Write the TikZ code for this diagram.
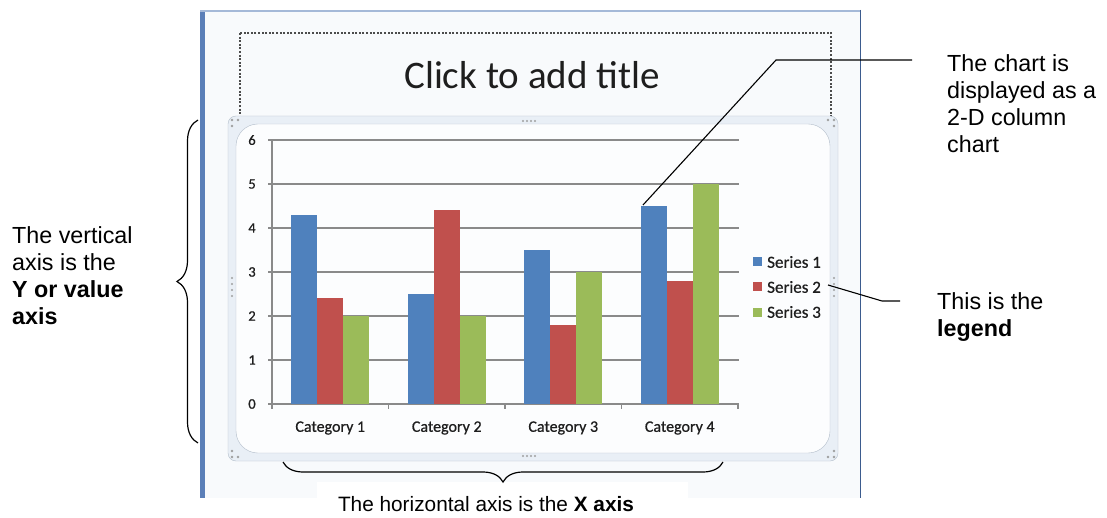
\documentclass[tikz,border=0pt]{standalone}
\usepackage{fontspec}
\setmainfont{Liberation Sans}
\newfontfamily\calib{Carlito}
\newfontfamily\calibdark{Carlito}[FakeBold=0.7]
\usetikzlibrary{decorations.pathreplacing}

\definecolor{serA}{HTML}{4F81BD}
\definecolor{serB}{HTML}{C0504D}
\definecolor{serC}{HTML}{9BBB59}
\definecolor{slidebg}{HTML}{F8FAFC}
\definecolor{gridc}{HTML}{8A8A8A}
\definecolor{framefill}{HTML}{E9EFF6}
\definecolor{framestroke}{HTML}{B2BDCA}
\definecolor{edgeblue}{HTML}{5B7FB8}
\definecolor{edgedark}{HTML}{3B5B8E}
\definecolor{inkc}{HTML}{1E1E1E}

\tikzset{
  note/.style={anchor=north west, align=left, inner sep=0pt, font=\fontsize{23.3}{27}\selectfont},
  callout/.style={line width=1.1pt, black},
  bracket/.style={decorate, line width=1.2pt, decoration={brace, amplitude=#1}},
  ylab/.style={font=\calibdark\fontsize{14.5}{16}\selectfont, text=inkc, inner sep=0pt},
  catlab/.style={font=\calibdark\fontsize{16}{18}\selectfont, text=inkc, inner sep=0pt},
  leglab/.style={font=\calibdark\fontsize{17}{19}\selectfont, text=inkc, inner sep=0pt, anchor=west},
  grid line/.style={gridc, line width=1.2pt},
  handle/.style={fill=gray!75},
}

\begin{document}
\begin{tikzpicture}[x=1pt,y=-1pt]
\useasboundingbox (0,0) rectangle (1107,518);
\fill[white] (0,0) rectangle (1107,518);

% slide page with its window edges
\fill[slidebg] (200,10) rectangle (861,498);
\fill[edgeblue] (200,10) rectangle (205,498);
\draw[edgeblue!55, line width=1.5pt] (200,11) -- (861,11);
\draw[edgedark, line width=1.5pt] (860.5,10) -- (860.5,498);

% white panel behind the caption below the slide
\fill[white] (317,482) rectangle (688,518);

% title placeholder
\draw[dash pattern=on 2pt off 1.6pt, line width=1.3pt, black!70] (240,33) rectangle (831,118);
\node[font=\calib\fontsize{39}{44}\selectfont, text=inkc] (title) at (532,75) {Click to add title};

% chart placeholder frame
\draw[framestroke, fill=framefill, rounded corners=8pt] (228,116) rectangle (838,461);
\draw[framestroke, fill=white!55!slidebg, rounded corners=22pt] (236,124) rectangle (830,453);

% sizing handles
\foreach \hx/\hy in {232/120, 238/120, 232/126,  834/120, 828/120, 834/126,
                     232/457, 238/457, 232/451,  834/457, 828/457, 834/451}
  \fill[handle] (\hx,\hy) circle (1.3pt);
\foreach \k in {0,...,3} {
  \fill[handle] (523+4*\k,121) circle (1.1pt);
  \fill[handle] (523+4*\k,456) circle (1.1pt);
  \fill[handle] (232,278+6*\k) circle (1.1pt);
  \fill[handle] (834,278+6*\k) circle (1.1pt);
}

% value gridlines and axis labels
\foreach \v in {1,...,6}
  \draw[grid line] (268,{404-44*\v}) -- (739,{404-44*\v});
\foreach \v in {0,...,6}
  \node[ylab] (y\v) at (252,{404-44*\v}) {\v};
\draw[grid line] (272,140) -- (272,404);
\draw[grid line] (268,404) -- (739,404);
\foreach \k in {0,...,4}
  \draw[grid line] ({272+116.5*\k},404) -- ({272+116.5*\k},409);

% columns
\foreach \c/\a/\b/\d in {0/4.3/2.4/2, 1/2.5/4.4/2, 2/3.5/1.8/3, 3/4.5/2.8/5} {
  \pgfmathsetmacro\bx{272+116.5*\c+19.25}
  \fill[serA] (\bx,404) rectangle ({\bx+26},{404-44*\a});
  \fill[serB] ({\bx+26},404) rectangle ({\bx+52},{404-44*\b});
  \fill[serC] ({\bx+52},404) rectangle ({\bx+78},{404-44*\d});
}

% category labels
\foreach \c in {1,...,4}
  \node[catlab] (cat\c) at ({272+116.5*(\c-0.5)},428) {Category \c};

% legend
\foreach \s/\col/\ly in {1/serA/262, 2/serB/287, 3/serC/312} {
  \fill[\col] (753,{\ly-4.5}) rectangle (762,{\ly+4.5});
  \node[leglab] (leg\s) at (767,\ly) {Series \s};
}

% annotations
\node[note] (ynote) at (12,226) {The vertical\\axis is the\\\textbf{Y or value}\\\textbf{axis}};
\node[note] (chartnote) at (947,54) {The chart is\\displayed as a\\2-D column\\chart};
\node[note] (legnote) at (937,292) {This is the\\\textbf{legend}};
\node[anchor=north, inner sep=0pt, font=\fontsize{20.8}{24}\selectfont] (xnote) at (486,496)
  {The horizontal axis is the \textbf{X axis}};

% callout leaders
\coordinate (colTop) at (643,205);
\coordinate (colBend) at (776,60);
\coordinate (colEnd) at (912,60);
\draw[callout] (colTop) -- (colBend) -- (colEnd);
\coordinate (legTip) at (828,285);
\coordinate (legBend) at (882,301);
\coordinate (legEnd) at (900,301);
\draw[callout] (legTip) -- (legBend) -- (legEnd);

% braces spanning the axes
\coordinate (yBraceLow) at (198,443);
\coordinate (yBraceHigh) at (198,120);
\draw[bracket=21pt] (yBraceLow) -- (yBraceHigh);
\coordinate (xBraceRight) at (723,462);
\coordinate (xBraceLeft) at (283,462);
\draw[bracket=20pt] (xBraceRight) -- (xBraceLeft);
\end{tikzpicture}
\end{document}
